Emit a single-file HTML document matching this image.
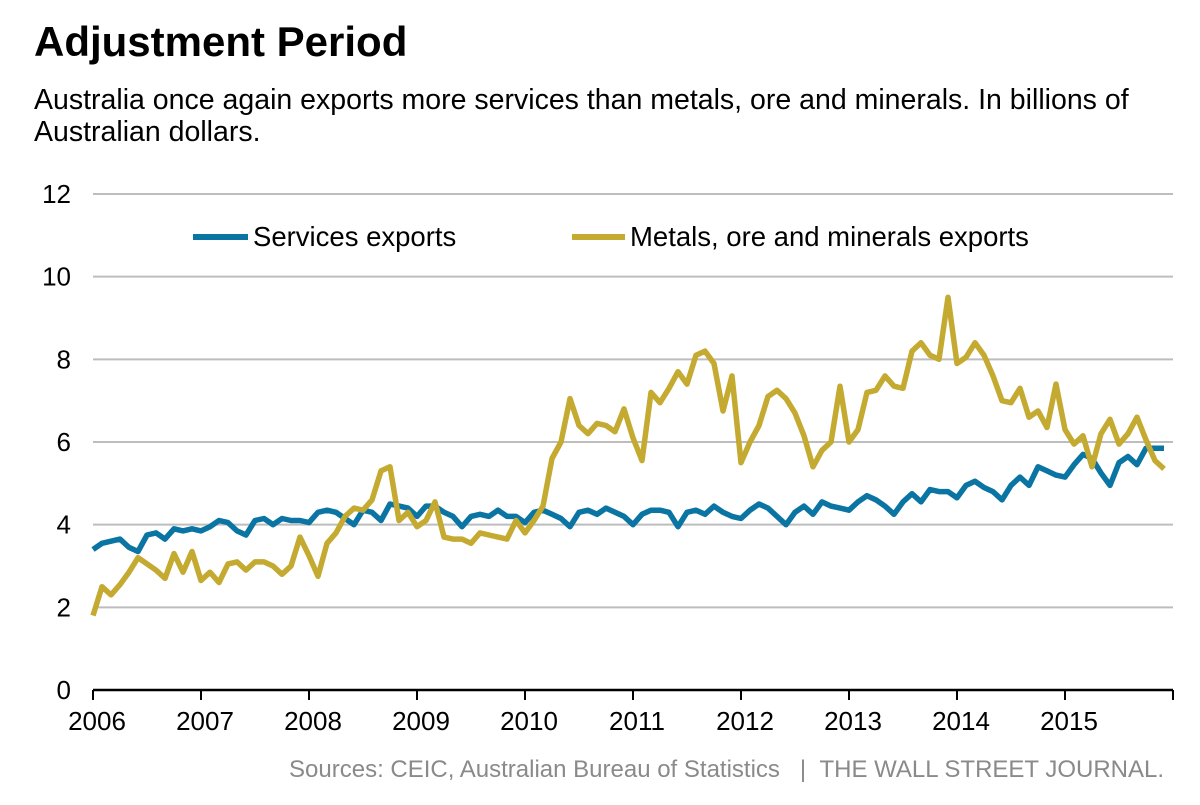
<!DOCTYPE html>
<html><head><meta charset="utf-8"><style>
body{margin:0;background:#fff;width:1200px;height:800px;overflow:hidden;font-family:"Liberation Sans",Arial,sans-serif}
</style></head><body>
<svg width="1200" height="800" xmlns="http://www.w3.org/2000/svg" font-family="Liberation Sans, Arial, sans-serif">
<text x="34" y="56" font-size="42" font-weight="bold" fill="#000">Adjustment Period</text>
<text x="34" y="109" font-size="28.5" fill="#000">Australia once again exports more services than metals, ore and minerals. In billions of</text>
<text x="34" y="141" font-size="28.5" fill="#000">Australian dollars.</text>
<g id="grid"></g>
<g id="yl"></g>
<g id="xl"></g>
<g id="series"></g>
<g>
<line x1="193" y1="237" x2="248" y2="237" stroke="#0a74a3" stroke-width="6"/>
<text x="253" y="246" font-size="27.5" fill="#000">Services exports</text>
<line x1="572" y1="237" x2="625" y2="237" stroke="#c4aa30" stroke-width="6"/>
<text x="630" y="246" font-size="27.5" fill="#000">Metals, ore and minerals exports</text>
</g>
<text x="1164" y="777" font-size="24" fill="#8a8a8a" text-anchor="end">Sources: CEIC, Australian Bureau of Statistics &#160; | &#160;THE WALL STREET JOURNAL.</text>
</svg>
<script>
const yTicks=[0,2,4,6,8,10,12];
const xYears=["2006","2007","2008","2009","2010","2011","2012","2013","2014","2015"];
const services=[3.4,3.55,3.6,3.65,3.45,3.35,3.75,3.8,3.65,3.9,3.85,3.9,
3.85,3.95,4.1,4.05,3.85,3.75,4.1,4.15,4.0,4.15,4.1,4.1,
4.05,4.3,4.35,4.3,4.15,4.0,4.35,4.3,4.1,4.5,4.45,4.4,
4.2,4.45,4.45,4.3,4.2,3.95,4.2,4.25,4.2,4.35,4.2,4.2,
4.05,4.3,4.35,4.25,4.15,3.95,4.3,4.35,4.25,4.4,4.3,4.2,
4.0,4.25,4.35,4.35,4.3,3.95,4.3,4.35,4.25,4.45,4.3,4.2,
4.15,4.35,4.5,4.4,4.2,4.0,4.3,4.45,4.25,4.55,4.45,4.4,
4.35,4.55,4.7,4.6,4.45,4.25,4.55,4.75,4.55,4.85,4.8,4.8,
4.65,4.95,5.05,4.9,4.8,4.6,4.95,5.15,4.95,5.4,5.3,5.2,
5.15,5.45,5.7,5.6,5.25,4.95,5.5,5.65,5.45,5.85,5.85,5.85];
const metals=[1.8,2.5,2.3,2.55,2.85,3.2,3.05,2.9,2.7,3.3,2.85,3.35,
2.65,2.85,2.6,3.05,3.1,2.9,3.1,3.1,3.0,2.8,3.0,3.7,
3.25,2.75,3.55,3.8,4.2,4.4,4.35,4.6,5.3,5.4,4.1,4.3,
3.95,4.1,4.55,3.7,3.65,3.65,3.55,3.8,3.75,3.7,3.65,4.1,
3.8,4.1,4.45,5.6,6.0,7.05,6.4,6.2,6.45,6.4,6.25,6.8,
6.1,5.55,7.2,6.95,7.3,7.7,7.4,8.1,8.2,7.9,6.75,7.6,
5.5,6.0,6.4,7.1,7.25,7.05,6.7,6.15,5.4,5.8,6.0,7.35,
6.0,6.3,7.2,7.25,7.6,7.35,7.3,8.2,8.4,8.1,8.0,9.5,
7.9,8.05,8.4,8.1,7.6,7.0,6.95,7.3,6.6,6.75,6.35,7.4,
6.3,5.95,6.15,5.4,6.2,6.55,5.95,6.2,6.6,6.05,5.55,5.35];
const NS="http://www.w3.org/2000/svg";
const x0=93,x1=1173,y0=690,y1=194;
const yS=v=>y0-(v/12)*(y0-y1);
const xS=i=>x0+i*(x1-x0)/120;
function mk(t,a,p){const e=document.createElementNS(NS,t);for(const k in a)e.setAttribute(k,a[k]);p.appendChild(e);return e;}
const grid=document.getElementById('grid'),yl=document.getElementById('yl'),xl=document.getElementById('xl'),ser=document.getElementById('series');
yTicks.forEach(v=>{
 if(v>0){const l=mk('line',{x1:x0,x2:x1,y1:yS(v),y2:yS(v),stroke:'#bdbdbd','stroke-width':2},grid);
 
 }
 const t=mk('text',{x:71,y:yS(v)+9,'font-size':26,'text-anchor':'end',fill:'#000'},yl);t.textContent=v;
 
 
});
const ax=mk('line',{x1:x0,x2:x1,y1:y0,y2:y0,stroke:'#000','stroke-width':2.5},xl);


for(let i=0;i<=120;i+=12){
 const tk=mk('line',{x1:xS(i),x2:xS(i),y1:y0,y2:y0+10,stroke:'#000','stroke-width':2},xl);
 
 
}
xYears.forEach((yr,k)=>{
 const t=mk('text',{x:xS(k*12)+4,y:730,'font-size':26,'text-anchor':'middle',fill:'#000'},xl);t.textContent=yr;
 
 
});
function line(arr,col,name){
 const d=arr.map((v,i)=>(i?'L':'M')+xS(i).toFixed(1)+','+yS(v).toFixed(1)).join('');
 const p=mk('path',{d:d,fill:'none',stroke:col,'stroke-width':5.5,'stroke-linejoin':'round'},ser);
 
 
}
line(services,'#0a74a3','services-line');
line(metals,'#c4aa30','metals-line');
</script>
</body></html>
